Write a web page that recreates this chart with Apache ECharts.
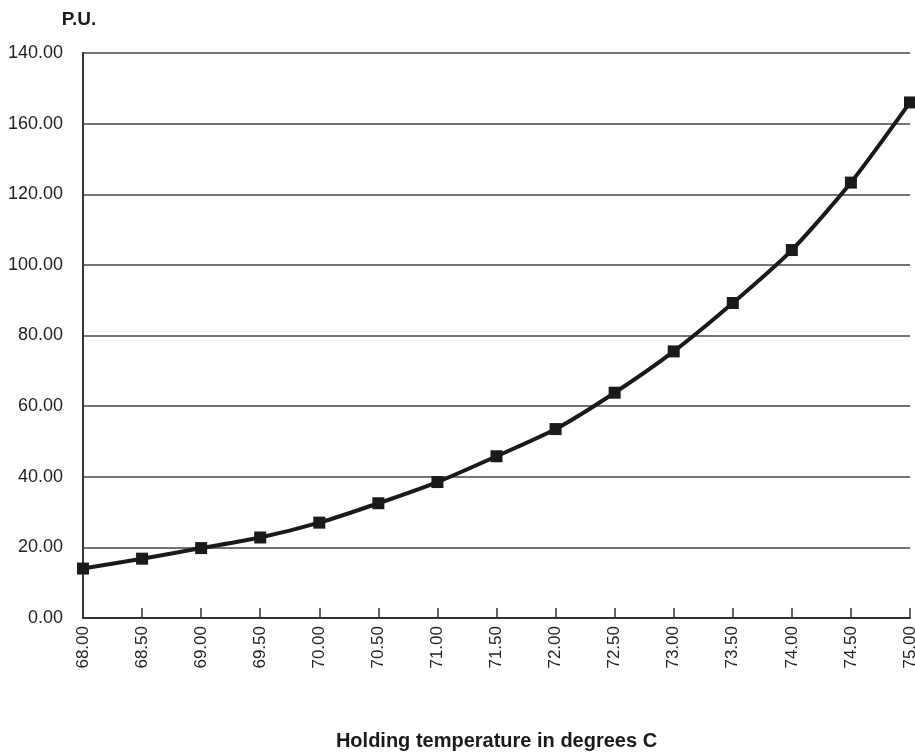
<!DOCTYPE html>
<html>
<head>
<meta charset="utf-8">
<script src="https://cdn.jsdelivr.net/npm/echarts@6/dist/echarts.min.js"></script>
<style>
html,body{margin:0;padding:0;background:#fff;}
#chart{width:915px;height:756px;}
</style>
</head>
<body>
<div id="chart"></div>
<script>
var categories = ['68.00','68.50','69.00','69.50','70.00','70.50','71.00','71.50','72.00','72.50','73.00','73.50','74.00','74.50','75.00'];
var puValues = [14.0, 16.8, 19.8, 22.8, 27.0, 32.5, 38.5, 45.8, 53.5, 63.8, 75.5, 89.2, 104.2, 123.3, 146.0];
var yTickLabels = ['0.00','20.00','40.00','60.00','80.00','100.00','120.00','160.00','140.00'];
var yAxisName = 'P.U.';
var xAxisName = 'Holding temperature in degrees C';

var chart = echarts.init(document.getElementById('chart'), null, {renderer: 'canvas'});
chart.setOption({
  animation: false,
  backgroundColor: '#fff',
  grid: {left: 83, right: 5, top: 53, bottom: 138, containLabel: false, outerBoundsMode: 'none'},
  xAxis: {
    type: 'category',
    data: categories,
    boundaryGap: false,
    name: xAxisName,
    nameLocation: 'middle',
    nameGap: 113,
    nameTextStyle: {fontFamily: 'Liberation Sans', fontSize: 20, fontWeight: 'bold', color: '#1a1a1a'},
    axisLine: {lineStyle: {color: '#333', width: 2}},
    axisTick: {show: true, inside: true, length: 10, alignWithLabel: true, lineStyle: {color: '#333', width: 1.5}},
    axisLabel: {rotate: 90, margin: 8, fontFamily: 'Liberation Sans', fontSize: 17, color: '#222', interval: 0},
    splitLine: {show: false}
  },
  yAxis: {
    type: 'value',
    min: 0,
    max: 160,
    interval: 20,
    name: yAxisName,
    nameLocation: 'end',
    nameGap: 24,
    nameTextStyle: {fontFamily: 'Liberation Sans', fontSize: 19, fontWeight: 'bold', color: '#1a1a1a', align: 'center', padding: [0, 8, 0, 0]},
    axisLine: {show: true, lineStyle: {color: '#333', width: 2}},
    axisTick: {show: false},
    axisLabel: {
      margin: 20,
      fontFamily: 'Liberation Sans', fontSize: 18, color: '#222',
      formatter: function (v) { return yTickLabels[Math.round(v / 20)]; }
    },
    splitLine: {show: true, lineStyle: {color: '#444', width: 1.5}}
  },
  series: [{
    type: 'line',
    data: puValues,
    symbol: 'rect',
    symbolSize: 12,
    smooth: 0.25,
    lineStyle: {color: '#1a1a1a', width: 4},
    itemStyle: {color: '#1a1a1a'},
    clip: false
  }]
});
</script>
</body>
</html>
